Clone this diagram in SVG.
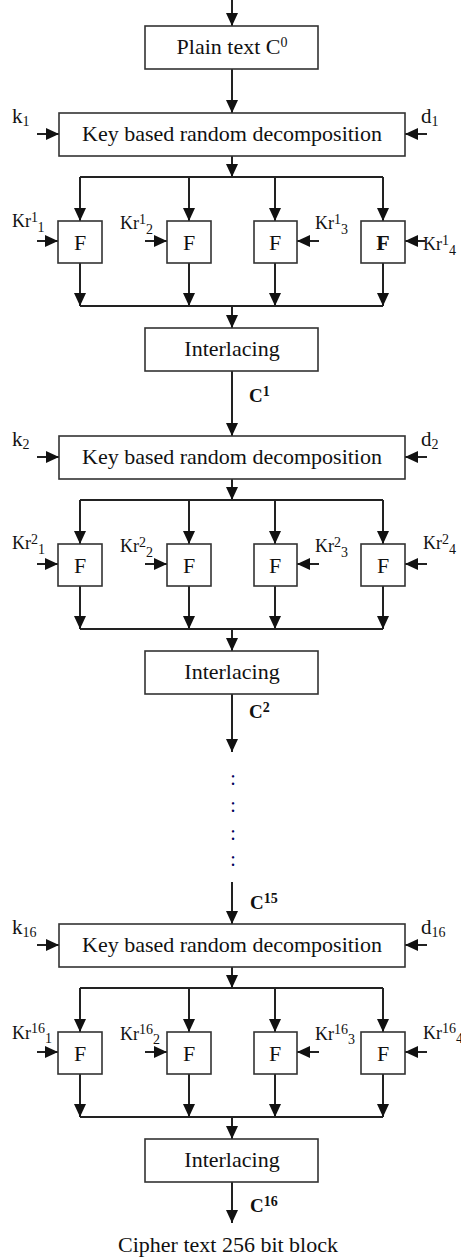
<svg xmlns="http://www.w3.org/2000/svg" width="461" height="1259" viewBox="0 0 461 1259">
  <style>
    .box { fill: #fff; stroke: #333; stroke-width: 1.6; }
    .ln { fill: none; stroke: #222; stroke-width: 2; }
    .arr { fill: none; stroke: #222; stroke-width: 2; marker-end: url(#ah); }
    text { font-family: "Liberation Serif", "Times New Roman", serif; fill: #111; }
    .t { font-size: 22px; text-anchor: middle; }
    .f { font-size: 22px; text-anchor: middle; }
    .kr { font-size: 18px; }
    .kd { font-size: 21px; }
    .s { font-size: 14px; }
    .c { font-size: 19px; font-weight: bold; }
    .dots { font-size: 20px; text-anchor: middle; fill: #00005a; }
  </style>
  <defs>
    <marker id="ah" markerUnits="userSpaceOnUse" markerWidth="13" markerHeight="12" refX="13" refY="6" orient="auto">
      <path d="M0,0 L13,6 L0,12 z" fill="#111"/>
    </marker>
  </defs>

  <!-- connectors -->
  <g id="connectors">
    <!-- input -->
    <line class="arr" x1="232" y1="0" x2="232" y2="26"/>
    <line class="arr" x1="232" y1="69" x2="232" y2="113"/>

    <!-- round 1 -->
    <line class="arr" x1="37" y1="134" x2="59" y2="134"/>
    <line class="arr" x1="427" y1="134" x2="405" y2="134"/>
    <line class="arr" x1="232" y1="156" x2="232" y2="177"/>
    <line class="ln" x1="80" y1="177" x2="383" y2="177"/>
    <line class="arr" x1="80" y1="177" x2="80" y2="221"/>
    <line class="arr" x1="189" y1="177" x2="189" y2="221"/>
    <line class="arr" x1="275" y1="177" x2="275" y2="221"/>
    <line class="arr" x1="383" y1="177" x2="383" y2="221"/>
    <line class="arr" x1="37" y1="241" x2="58" y2="241"/>
    <line class="arr" x1="145" y1="241" x2="167" y2="241"/>
    <line class="arr" x1="319" y1="241" x2="297" y2="241"/>
    <line class="arr" x1="425" y1="241" x2="405" y2="241"/>
    <line class="arr" x1="80" y1="263" x2="80" y2="306"/>
    <line class="arr" x1="189" y1="263" x2="189" y2="306"/>
    <line class="arr" x1="275" y1="263" x2="275" y2="306"/>
    <line class="arr" x1="383" y1="263" x2="383" y2="306"/>
    <line class="ln" x1="80" y1="306" x2="383" y2="306"/>
    <line class="arr" x1="232" y1="306" x2="232" y2="328"/>
    <line class="arr" x1="232" y1="371" x2="232" y2="436"/>

    <!-- round 2 -->
    <line class="arr" x1="37" y1="457" x2="59" y2="457"/>
    <line class="arr" x1="427" y1="457" x2="405" y2="457"/>
    <line class="arr" x1="232" y1="479" x2="232" y2="500"/>
    <line class="ln" x1="80" y1="500" x2="383" y2="500"/>
    <line class="arr" x1="80" y1="500" x2="80" y2="544"/>
    <line class="arr" x1="189" y1="500" x2="189" y2="544"/>
    <line class="arr" x1="275" y1="500" x2="275" y2="544"/>
    <line class="arr" x1="383" y1="500" x2="383" y2="544"/>
    <line class="arr" x1="37" y1="564" x2="58" y2="564"/>
    <line class="arr" x1="145" y1="564" x2="167" y2="564"/>
    <line class="arr" x1="319" y1="564" x2="297" y2="564"/>
    <line class="arr" x1="427" y1="564" x2="405" y2="564"/>
    <line class="arr" x1="80" y1="586" x2="80" y2="629"/>
    <line class="arr" x1="189" y1="586" x2="189" y2="629"/>
    <line class="arr" x1="275" y1="586" x2="275" y2="629"/>
    <line class="arr" x1="383" y1="586" x2="383" y2="629"/>
    <line class="ln" x1="80" y1="629" x2="383" y2="629"/>
    <line class="arr" x1="232" y1="629" x2="232" y2="651"/>
    <line class="arr" x1="232" y1="694" x2="232" y2="752"/>

    <!-- round 16 -->
    <line class="arr" x1="232" y1="882" x2="232" y2="924"/>
    <line class="arr" x1="37" y1="945" x2="59" y2="945"/>
    <line class="arr" x1="427" y1="945" x2="405" y2="945"/>
    <line class="arr" x1="232" y1="967" x2="232" y2="988"/>
    <line class="ln" x1="80" y1="988" x2="383" y2="988"/>
    <line class="arr" x1="80" y1="988" x2="80" y2="1032"/>
    <line class="arr" x1="189" y1="988" x2="189" y2="1032"/>
    <line class="arr" x1="275" y1="988" x2="275" y2="1032"/>
    <line class="arr" x1="383" y1="988" x2="383" y2="1032"/>
    <line class="arr" x1="37" y1="1052" x2="58" y2="1052"/>
    <line class="arr" x1="145" y1="1052" x2="167" y2="1052"/>
    <line class="arr" x1="319" y1="1052" x2="297" y2="1052"/>
    <line class="arr" x1="427" y1="1052" x2="405" y2="1052"/>
    <line class="arr" x1="80" y1="1074" x2="80" y2="1117"/>
    <line class="arr" x1="189" y1="1074" x2="189" y2="1117"/>
    <line class="arr" x1="275" y1="1074" x2="275" y2="1117"/>
    <line class="arr" x1="383" y1="1074" x2="383" y2="1117"/>
    <line class="ln" x1="80" y1="1117" x2="383" y2="1117"/>
    <line class="arr" x1="232" y1="1117" x2="232" y2="1139"/>
    <line class="arr" x1="232" y1="1182" x2="232" y2="1223"/>
  </g>

  <!-- plain text input -->
  <g id="plain">
    <rect class="box" x="145" y="26" width="173" height="43"/>
    <text class="t" x="232" y="54">Plain text C<tspan class="s" dy="-7">0</tspan></text>
  </g>

  <!-- round 1 -->
  <g id="decomp1">
    <rect class="box" x="59" y="113" width="346" height="43"/>
    <text class="t" x="232" y="141">Key based random decomposition</text>
  </g>
  <g id="k1"><text class="kd" x="12" y="123">k<tspan class="s" dy="3">1</tspan></text></g>
  <g id="d1"><text class="kd" x="421" y="123">d<tspan class="s" dy="3">1</tspan></text></g>
  <g id="f1_1"><rect class="box" x="58" y="221" width="44" height="42"/><text class="f" x="80" y="250">F</text></g>
  <g id="f1_2"><rect class="box" x="167" y="221" width="44" height="42"/><text class="f" x="189" y="250">F</text></g>
  <g id="f1_3"><rect class="box" x="254" y="221" width="43" height="42"/><text class="f" x="275" y="250">F</text></g>
  <g id="f1_4"><rect class="box" x="361" y="221" width="44" height="42"/><text class="f" x="383" y="250" font-weight="bold">F</text></g>
  <g id="kr1_1"><text class="kr" x="12" y="227">Kr<tspan class="s" dy="-5">1</tspan><tspan class="s" dy="10">1</tspan></text></g>
  <g id="kr1_2"><text class="kr" x="120" y="229">Kr<tspan class="s" dy="-5">1</tspan><tspan class="s" dy="10">2</tspan></text></g>
  <g id="kr1_3"><text class="kr" x="315" y="229">Kr<tspan class="s" dy="-5">1</tspan><tspan class="s" dy="10">3</tspan></text></g>
  <g id="kr1_4"><text class="kr" x="423" y="250">Kr<tspan class="s" dy="-5">1</tspan><tspan class="s" dy="10">4</tspan></text></g>
  <g id="inter1">
    <rect class="box" x="145" y="328" width="173" height="43"/>
    <text class="t" x="232" y="356">Interlacing</text>
  </g>
  <g id="c1"><text class="c" x="249" y="402">C<tspan class="s" dy="-6">1</tspan></text></g>

  <!-- round 2 -->
  <g id="decomp2">
    <rect class="box" x="59" y="436" width="346" height="43"/>
    <text class="t" x="232" y="464">Key based random decomposition</text>
  </g>
  <g id="k2"><text class="kd" x="12" y="446">k<tspan class="s" dy="3">2</tspan></text></g>
  <g id="d2"><text class="kd" x="421" y="446">d<tspan class="s" dy="3">2</tspan></text></g>
  <g id="f2_1"><rect class="box" x="58" y="544" width="44" height="42"/><text class="f" x="80" y="573">F</text></g>
  <g id="f2_2"><rect class="box" x="167" y="544" width="44" height="42"/><text class="f" x="189" y="573">F</text></g>
  <g id="f2_3"><rect class="box" x="254" y="544" width="43" height="42"/><text class="f" x="275" y="573">F</text></g>
  <g id="f2_4"><rect class="box" x="361" y="544" width="44" height="42"/><text class="f" x="383" y="573">F</text></g>
  <g id="kr2_1"><text class="kr" x="12" y="549">Kr<tspan class="s" dy="-5">2</tspan><tspan class="s" dy="10">1</tspan></text></g>
  <g id="kr2_2"><text class="kr" x="120" y="552">Kr<tspan class="s" dy="-5">2</tspan><tspan class="s" dy="10">2</tspan></text></g>
  <g id="kr2_3"><text class="kr" x="315" y="552">Kr<tspan class="s" dy="-5">2</tspan><tspan class="s" dy="10">3</tspan></text></g>
  <g id="kr2_4"><text class="kr" x="423" y="549">Kr<tspan class="s" dy="-5">2</tspan><tspan class="s" dy="10">4</tspan></text></g>
  <g id="inter2">
    <rect class="box" x="145" y="651" width="173" height="43"/>
    <text class="t" x="232" y="679">Interlacing</text>
  </g>
  <g id="c2"><text class="c" x="249" y="718">C<tspan class="s" dy="-6">2</tspan></text></g>

  <!-- rounds 3 to 15 elided -->
  <g id="ellipsis">
    <text class="dots" x="233" y="785">:</text>
    <text class="dots" x="233" y="812">:</text>
    <text class="dots" x="233" y="840">:</text>
    <text class="dots" x="233" y="866">:</text>
  </g>
  <g id="c15"><text class="c" x="250" y="909">C<tspan class="s" dy="-6">15</tspan></text></g>

  <!-- round 16 -->
  <g id="decomp16">
    <rect class="box" x="59" y="924" width="346" height="43"/>
    <text class="t" x="232" y="952">Key based random decomposition</text>
  </g>
  <g id="k16"><text class="kd" x="12" y="934">k<tspan class="s" dy="3">16</tspan></text></g>
  <g id="d16"><text class="kd" x="421" y="934">d<tspan class="s" dy="3">16</tspan></text></g>
  <g id="f16_1"><rect class="box" x="58" y="1032" width="44" height="42"/><text class="f" x="80" y="1061">F</text></g>
  <g id="f16_2"><rect class="box" x="167" y="1032" width="44" height="42"/><text class="f" x="189" y="1061">F</text></g>
  <g id="f16_3"><rect class="box" x="254" y="1032" width="43" height="42"/><text class="f" x="275" y="1061">F</text></g>
  <g id="f16_4"><rect class="box" x="361" y="1032" width="44" height="42"/><text class="f" x="383" y="1061">F</text></g>
  <g id="kr16_1"><text class="kr" x="12" y="1039">Kr<tspan class="s" dy="-6">16</tspan><tspan class="s" dy="10">1</tspan></text></g>
  <g id="kr16_2"><text class="kr" x="120" y="1040">Kr<tspan class="s" dy="-6">16</tspan><tspan class="s" dy="10">2</tspan></text></g>
  <g id="kr16_3"><text class="kr" x="315" y="1040">Kr<tspan class="s" dy="-6">16</tspan><tspan class="s" dy="10">3</tspan></text></g>
  <g id="kr16_4"><text class="kr" x="423" y="1039">Kr<tspan class="s" dy="-6">16</tspan><tspan class="s" dy="10">4</tspan></text></g>
  <g id="inter16">
    <rect class="box" x="145" y="1139" width="173" height="43"/>
    <text class="t" x="232" y="1167">Interlacing</text>
  </g>
  <g id="c16"><text class="c" x="250" y="1212">C<tspan class="s" dy="-6">16</tspan></text></g>

  <!-- output -->
  <g id="cipher"><text class="t" x="228" y="1252">Cipher text 256 bit block</text></g>
</svg>
